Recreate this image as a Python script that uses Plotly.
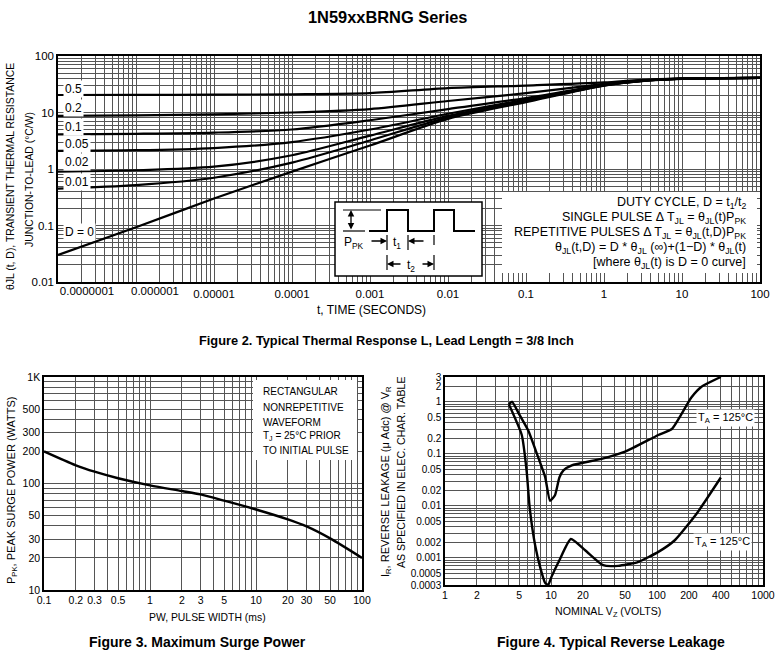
import math
import plotly.graph_objects as go

W, H = 775, 665
FONT = "Arial, Liberation Sans, sans-serif"
GRID = "#555555"

# ---------------- Figure 2: transient thermal response ----------------
time_s = [1e-7, 1e-6, 1e-5, 1e-4, 1e-3, 1e-2, 0.1, 1, 3, 10, 100]
theta_d05 = [20.4, 20.5, 20.7, 21.0, 22.0, 27.0, 30.0, 34.0, 38.0, 40.0, 41.0]
theta_d02 = [8.7, 8.9, 9.3, 10.0, 11.5, 16.0, 22.0, 32.0, 37.0, 40.0, 41.0]
theta_d01 = [4.1, 4.2, 4.4, 5.0, 7.3, 11.5, 18.0, 31.0, 36.5, 39.8, 41.0]
theta_d005 = [2.1, 2.15, 2.35, 3.0, 5.0, 9.5, 17.0, 30.5, 36.2, 39.7, 41.0]
theta_d002 = [0.9, 0.95, 1.1, 1.75, 3.9, 8.7, 16.2, 30.3, 36.1, 39.6, 41.0]
theta_d001 = [0.45, 0.52, 0.70, 1.3, 3.2, 8.2, 15.8, 30.1, 36.0, 39.6, 41.0]
theta_d0 = [0.03, 0.093, 0.3, 0.9, 2.6, 7.7, 15.3, 30.0, 36.0, 39.5, 41.0]
duty_labels = ["0.5", "0.2", "0.1", "0.05", "0.02", "0.01", "D = 0"]

fig2_xtick_vals = [1e-7, 1e-6, 1e-5, 1e-4, 1e-3, 1e-2, 0.1, 1, 10, 100]
fig2_xtick_text = ["0.0000001", "0.000001", "0.00001", "0.0001", "0.001",
                   "0.01", "0.1", "1", "10", "100"]
fig2_ytick_vals = [0.01, 0.1, 1, 10, 100]
fig2_ytick_text = ["0.01", "0.1", "1", "10", "100"]

# ---------------- Figure 3: maximum surge power ----------------
pw_ms = [0.1, 0.2, 0.3, 0.5, 1, 2, 3, 5, 10, 20, 30, 50, 100]
ppk_w = [200, 148, 129, 112, 96, 85, 79, 69, 57, 46, 39.5, 30.5, 20]
fig3_xtick_vals = [0.1, 0.2, 0.3, 0.5, 1, 2, 3, 5, 10, 20, 30, 50, 100]
fig3_xtick_text = ["0.1", "0.2", "0.3", "0.5", "1", "2", "3", "5", "10", "20", "30", "50", "100"]
fig3_ytick_vals = [10, 20, 30, 50, 100, 200, 300, 500, 1000]
fig3_ytick_text = ["10", "20", "30", "50", "100", "200", "300", "500", "1K"]

# ---------------- Figure 4: typical reverse leakage ----------------
vz_upper = [4.0, 4.3, 5.0, 6.1, 7.5, 8.8, 9.8, 10.9, 12.0, 13.1, 15.7, 30, 50, 103, 138, 210, 263, 400]
ir_upper = [0.9, 1.0, 0.58, 0.28, 0.09, 0.036, 0.0125, 0.016, 0.035, 0.048, 0.06, 0.08, 0.11, 0.23, 0.3, 1.2, 1.95, 3.0]
vz_lower = [4.0, 5.3, 5.9, 6.3, 7.1, 8.0, 8.8, 9.4, 10.1, 12.0, 15.4, 21, 31, 43, 66, 103, 148, 237, 400]
ir_lower = [0.9, 0.23, 0.045, 0.009, 0.0017, 0.0006, 0.00033, 0.0003, 0.00043, 0.0009, 0.0023, 0.0014,
            0.00072, 0.0007, 0.00083, 0.0013, 0.0022, 0.0071, 0.035]
curve_labels = ["T<sub>A</sub> = 125°C", "T<sub>A</sub> = 125°C"]
fig4_xtick_vals = [1, 2, 5, 10, 20, 50, 100, 200, 400, 1000]
fig4_xtick_text = ["1", "2", "5", "10", "20", "50", "100", "200", "400", "1000"]
fig4_ytick_vals = [0.0003, 0.0005, 0.001, 0.002, 0.005, 0.01, 0.02, 0.05, 0.1, 0.2, 0.5, 1, 2, 3]
fig4_ytick_text = ["0.0003", "0.0005", "0.001", "0.002", "0.005", "0.01", "0.02", "0.05",
                   "0.1", "0.2", "0.5", "1", "2", "3"]


def px(x):
    return x / W


def py(y):
    return 1 - y / H


def log_grid(lo, hi):
    vals = []
    for e in range(int(math.floor(math.log10(lo))) - 1, int(math.ceil(math.log10(hi))) + 1):
        for m in range(1, 10):
            v = float(f"{m}e{e}")
            if lo * 0.999 <= v <= hi * 1.001:
                vals.append(v)
    return vals


def axis_ticks(lo, hi, label_vals, label_text):
    lab = {round(math.log10(v), 5): t for v, t in zip(label_vals, label_text)}
    grid = log_grid(lo, hi)
    for v in label_vals:
        if all(abs(math.log10(v) - math.log10(g)) > 1e-6 for g in grid):
            grid.append(v)
    grid.sort()
    text = [lab.get(round(math.log10(v), 5), "") for v in grid]
    return grid, text


def make_axis(domain, lo, hi, lv, lt, anchor, fsize):
    tv, tt = axis_ticks(lo, hi, lv, lt)
    return dict(domain=domain, type="log", range=[math.log10(lo), math.log10(hi)],
                tickmode="array", tickvals=tv, ticktext=tt, ticks="", tickangle=0,
                showgrid=True, gridcolor=GRID, gridwidth=1, zeroline=False,
                showline=True, linecolor="black", linewidth=1.5, mirror=True,
                tickfont=dict(family=FONT, size=fsize, color="black"), anchor=anchor,
                automargin=False, fixedrange=True)


def label_axis(domain, lo, hi, val, txt, shift, fsize):
    # extra overlaid axis carrying one shifted tick label (the original sets these right of the line)
    return dict(domain=domain, type="log", range=[math.log10(lo), math.log10(hi)], overlaying="x",
                anchor="y", side="bottom", tickmode="array", tickvals=[val], ticktext=[txt],
                ticks="", tickangle=0, ticklabelshift=shift, showgrid=False, showline=False,
                zeroline=False, tickfont=dict(family=FONT, size=fsize, color="black"),
                automargin=False, fixedrange=True)


# main time axis keeps the two leftmost labels on overlaid axes instead
fig2_main_text = [""] * 2 + fig2_xtick_text[2:]

fig = go.Figure()

series2 = [theta_d05, theta_d02, theta_d01, theta_d005, theta_d002, theta_d001, theta_d0]
for name, ys in zip(duty_labels, series2):
    fig.add_trace(go.Scatter(x=time_s, y=ys, mode="lines", name=name,
                             line=dict(color="black", width=2.2, shape="spline", smoothing=0.8),
                             xaxis="x", yaxis="y", showlegend=False, hoverinfo="skip"))

fig.add_trace(go.Scatter(x=pw_ms, y=ppk_w, mode="lines",
                         line=dict(color="black", width=2.4, shape="spline", smoothing=0.8),
                         xaxis="x2", yaxis="y2", showlegend=False, hoverinfo="skip"))

fig.add_trace(go.Scatter(x=vz_upper, y=ir_upper, mode="lines",
                         line=dict(color="black", width=2.4, shape="spline", smoothing=0.5),
                         xaxis="x3", yaxis="y3", showlegend=False, hoverinfo="skip"))
fig.add_trace(go.Scatter(x=vz_lower, y=ir_lower, mode="lines",
                         line=dict(color="black", width=2.4, shape="spline", smoothing=0.5),
                         xaxis="x3", yaxis="y3", showlegend=False, hoverinfo="skip"))
# empty traces so the overlaid label axes are created
for ax in ("x4", "x5"):
    fig.add_trace(go.Scatter(x=[], y=[], xaxis=ax, yaxis="y", showlegend=False, hoverinfo="skip"))

ann = []


def text(x, y, s, size=11, bold=False, angle=0, xanchor="center", bg=None, family=FONT):
    d = dict(x=px(x), y=py(y), xref="paper", yref="paper", text=(f"<b>{s}</b>" if bold else s),
             showarrow=False, textangle=angle, xanchor=xanchor, yanchor="middle",
             font=dict(family=family, size=size, color="black"))
    if bg:
        d["bgcolor"] = bg
        d["borderpad"] = 1
    ann.append(d)


def arrow(x, y, ax, ay, both=False):
    ann.append(dict(x=px(x), y=py(y), xref="paper", yref="paper", text="", showarrow=True,
                    ax=ax, ay=ay, arrowhead=2, arrowsize=1, arrowwidth=1.3, arrowcolor="black",
                    arrowside="end+start" if both else "end"))


# Titles & captions
text(387.5, 17, "1N59xxBRNG Series", size=16.4, bold=True)
text(386, 340, "Figure 2. Typical Thermal Response L, Lead Length = 3/8 Inch", size=12.8, bold=True)
text(197.5, 642, "Figure 3. Maximum Surge Power", size=14, bold=True)
text(610.5, 642, "Figure 4. Typical Reverse Leakage", size=14, bold=True)

# Axis titles
text(10, 177, "θJL (t, D), TRANSIENT THERMAL RESISTANCE", size=10.4, angle=-90)
text(29, 180, "JUNCTION-TO-LEAD (°C/W)", size=10.4, angle=-90)
text(371, 310, "t, TIME (SECONDS)", size=12)
text(12, 490, "P<sub>PK</sub>, PEAK SURGE POWER (WATTS)", size=11, angle=-90)
text(207, 617, "PW, PULSE WIDTH (ms)", size=10.4)
text(386, 482, "I<sub>R</sub>, REVERSE LEAKAGE (μ Adc) @ V<sub>R</sub>", size=11, angle=-90)
text(401, 472, "AS SPECIFIED IN ELEC. CHAR. TABLE", size=10.6, angle=-90)
text(608, 612, "NOMINAL V<sub>Z</sub> (VOLTS)", size=10.6)

# Duty cycle labels
for lab, yy in zip(duty_labels, [89, 108, 127, 144, 162, 182, 232]):
    text(63, yy, lab, size=12, xanchor="left", bg="white")

# Formula block (right aligned)
formula_lines = [
    "DUTY CYCLE, D = t<sub>1</sub>/t<sub>2</sub>",
    "SINGLE PULSE Δ T<sub>JL</sub> = θ<sub>JL</sub>(t)P<sub>PK</sub>",
    "REPETITIVE PULSES Δ T<sub>JL</sub> = θ<sub>JL</sub>(t,D)P<sub>PK</sub>",
    "θ<sub>JL</sub>(t,D) = D * θ<sub>JL</sub> (∞)+(1−D) * θ<sub>JL</sub>(t)",
    "[where θ<sub>JL</sub>(t) is D = 0 curve]",
]
for s, yy in zip(formula_lines, [203, 218, 233, 248, 263]):
    text(748, yy, s, size=12.5, xanchor="right")

# Figure 3 note
note3 = ["RECTANGULAR", "NONREPETITIVE", "WAVEFORM", "T<sub>J</sub> = 25°C PRIOR", "TO INITIAL PULSE"]
for s, yy in zip(note3, [392, 407, 422, 436, 451]):
    text(261, yy, s, size=10, xanchor="left")

# Figure 4 labels
text(725, 418, curve_labels[0], size=11, bg="white")
text(722, 542, curve_labels[1], size=11, bg="white")

# Pulse inset texts
text(354, 243, "P<sub>PK</sub>", size=12)
text(397, 243, "t<sub>1</sub>", size=12)
text(411, 266, "t<sub>2</sub>", size=12)

# arrows in inset
arrow(351, 210, 0, 21, both=True)
arrow(387, 241, -17, 0)
arrow(408, 241, 17, 0)
arrow(387, 264, 15, 0)
arrow(434, 264, -13, 0)

shapes = []


def rect(x0, y0, x1, y1, border=True):
    shapes.append(dict(type="rect", xref="paper", yref="paper", x0=px(x0), y0=py(y0), x1=px(x1), y1=py(y1),
                       fillcolor="white", line=dict(color="black", width=1.5 if border else 0), layer="above"))


def line(x0, y0, x1, y1, w=1.2):
    shapes.append(dict(type="line", xref="paper", yref="paper", x0=px(x0), y0=py(y0), x1=px(x1), y1=py(y1),
                       line=dict(color="black", width=w), layer="above"))


rect(502, 192, 757, 273, border=False)
rect(253, 380, 357, 460, border=False)
rect(335, 202, 482, 276, border=True)

wave = [(369, 231), (387, 231), (387, 210), (408, 210), (408, 231), (434, 231), (434, 210),
        (454, 210), (454, 231), (475, 231)]
path = "M " + " L ".join(f"{px(a):.5f},{py(b):.5f}" for a, b in wave)
shapes.append(dict(type="path", xref="paper", yref="paper", path=path,
                   line=dict(color="black", width=2), layer="above"))
line(343, 210, 381, 210)
line(343, 231, 365, 231)
line(387, 235, 387, 250)
line(408, 235, 408, 250)
line(434, 235, 434, 245)
line(387, 255, 387, 270)
line(434, 255, 434, 270)

dom_x1 = [px(58), px(760)]

fig.update_layout(
    width=W, height=H, margin=dict(l=0, r=0, t=0, b=0, autoexpand=False),
    paper_bgcolor="white", plot_bgcolor="white",
    font=dict(family=FONT, size=11, color="black"),
    xaxis=make_axis(dom_x1, 1e-7, 100, fig2_xtick_vals, fig2_main_text, "y", 11.5),
    xaxis4=label_axis(dom_x1, 1e-7, 100, fig2_xtick_vals[0], fig2_xtick_text[0], 29, 11.5),
    xaxis5=label_axis(dom_x1, 1e-7, 100, fig2_xtick_vals[1], fig2_xtick_text[1], 19, 11.5),
    yaxis=make_axis([py(282), py(56)], 0.01, 100, fig2_ytick_vals, fig2_ytick_text, "x", 11.5),
    xaxis2=make_axis([px(44), px(362)], 0.1, 100, fig3_xtick_vals, fig3_xtick_text, "y2", 10.5),
    yaxis2=make_axis([py(590), py(377)], 10, 1000, fig3_ytick_vals, fig3_ytick_text, "x2", 10.5),
    xaxis3=make_axis([px(445), px(763)], 1, 1000, fig4_xtick_vals, fig4_xtick_text, "y3", 10.5),
    yaxis3=make_axis([py(585), py(377)], 0.0003, 3, fig4_ytick_vals, fig4_ytick_text, "x3", 10),
    annotations=ann, shapes=shapes,
)

fig.write_html("out.html", config={"displayModeBar": False},
               post_script="document.body.style.margin='0';document.body.style.overflow='hidden';")
